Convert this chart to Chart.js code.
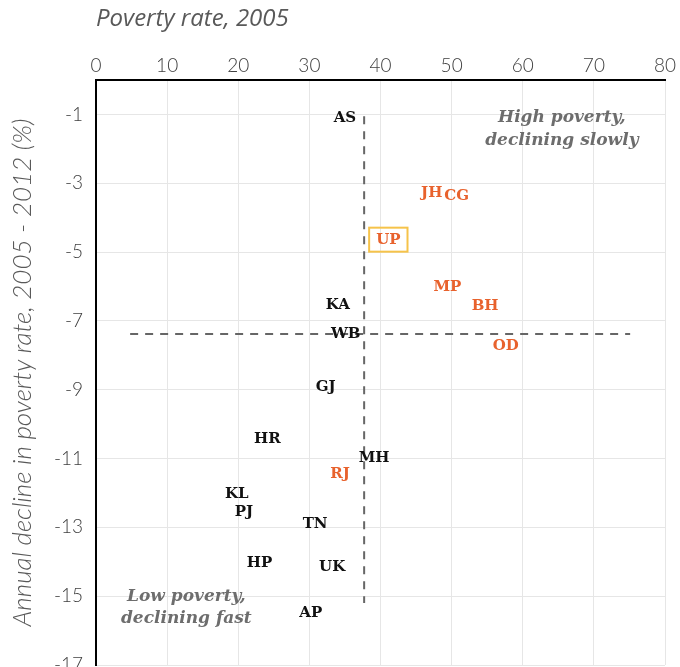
<!DOCTYPE html>
<html>
<head>
<meta charset="utf-8">
<script src="https://cdn.jsdelivr.net/npm/chart.js@4.4.1/dist/chart.umd.min.js"></script>
<style>
  html, body { margin: 0; padding: 0; background: #fff; }
  #wrap { width: 680px; height: 667px; }
</style>
</head>
<body>
<div id="wrap"><canvas id="povertyChart"></canvas></div>
<script>
// state codes with 2005 poverty rate (x) and annual decline 2005-2012 (y)
const states = ['AS', 'JH', 'CG', 'UP', 'MP', 'BH', 'KA', 'WB', 'OD', 'GJ',
                'HR', 'MH', 'RJ', 'KL', 'PJ', 'TN', 'HP', 'UK', 'AP'];
const povertyRate = [35.0, 47.2, 50.7, 41.1, 49.4, 54.7, 34.0, 35.1, 57.6, 32.3,
                     24.1, 39.1, 34.3, 19.8, 20.8, 30.8, 23.0, 33.2, 30.2];
const annualDecline = [-1.10, -3.28, -3.36, -4.64, -6.02, -6.56, -6.55, -7.38, -7.72, -8.93,
                       -10.44, -10.99, -11.46, -12.04, -12.56, -12.90, -14.03, -14.16, -15.49];
const highlighted = ['JH', 'CG', 'UP', 'MP', 'BH', 'OD', 'RJ'];
const boxed = ['UP'];

const xTicks = [0, 10, 20, 30, 40, 50, 60, 70, 80];
const yTicks = [-1, -3, -5, -7, -9, -11, -13, -15, -17];

// dashed dividers (data units)
const vDividerX = [37.7, 37.7];
const vDividerY = [-1.05, -15.2];
const hDividerX = [4.8, 75.1];
const hDividerY = [-7.38, -7.38];

// quadrant notes
const noteText = [['High poverty,', 'declining slowly'], ['Low poverty,', 'declining fast']];
const noteX = [65.5, 12.7];
const noteY = [[-1.1, -1.75], [-15.02, -15.65]];

const ORANGE = '#E8622D';

const labelPlugin = {
    id: 'stateLabels',
    afterDatasetsDraw(chart) {
        const ctx = chart.ctx;
        const x = chart.scales.x;
        const y = chart.scales.y;
        ctx.save();
        ctx.textAlign = 'center';
        ctx.textBaseline = 'middle';
        states.forEach(function (s, i) {
            const px = x.getPixelForValue(povertyRate[i]);
            const py = y.getPixelForValue(annualDecline[i]);
            const hot = highlighted.includes(s);
            ctx.font = 'bold 15px "DejaVu Serif"';
            ctx.fillStyle = hot ? ORANGE : '#111';
            ctx.fillText(s, px, py);
            if (boxed.includes(s)) {
                const w = ctx.measureText(s).width;
                ctx.strokeStyle = '#F6C34A';
                ctx.lineWidth = 2;
                ctx.strokeRect(px - w / 2 - 7, py - 12, w + 14, 24);
            }
        });

        ctx.fillStyle = '#6d6d6d';
        ctx.font = 'italic bold 17px "DejaVu Serif"';
        noteText.forEach(function (lines, i) {
            lines.forEach(function (t, j) {
                ctx.fillText(t, x.getPixelForValue(noteX[i]), y.getPixelForValue(noteY[i][j]));
            });
        });
        ctx.restore();
    }
};

function divider(xs, ys) {
    return {
        data: xs.map((v, i) => ({x: v, y: ys[i]})),
        showLine: true,
        borderColor: '#666',
        borderWidth: 2,
        borderDash: [8, 7],
        pointRadius: 0,
        fill: false
    };
}

const ctx = document.getElementById('povertyChart').getContext('2d');
new Chart(ctx, {
    type: 'scatter',
    data: {
        datasets: [
            {
                data: states.map((s, i) => ({x: povertyRate[i], y: annualDecline[i]})),
                pointRadius: 0,
                pointHoverRadius: 0
            },
            divider(vDividerX, vDividerY),
            divider(hDividerX, hDividerY)
        ]
    },
    options: {
        responsive: true,
        maintainAspectRatio: false,
        animation: false,
        layout: {padding: {top: 0, right: 15, bottom: 2, left: 0}},
        plugins: {legend: {display: false}, tooltip: {enabled: false}},
        scales: {
            x: {
                type: 'linear',
                position: 'top',
                min: 0,
                max: 80,
                afterBuildTicks: s => { s.ticks = xTicks.map(v => ({value: v})); },
                afterFit: s => { s.height = 80; s.paddingLeft = 0; s.paddingRight = 0; },
                grid: {color: '#e6e6e6', lineWidth: 1, drawTicks: false},
                border: {color: '#000', width: 2},
                ticks: {padding: 3, color: '#404040', font: {family: 'Lato', size: 19, weight: 300}},
                title: {
                    display: true,
                    text: 'Poverty rate, 2005',
                    align: 'start',
                    color: '#595959',
                    font: {family: 'Open Sans', size: 24, style: 'italic'},
                    padding: {top: 5, bottom: 0}
                }
            },
            y: {
                type: 'linear',
                min: -17,
                max: 0,
                afterBuildTicks: s => { s.ticks = yTicks.map(v => ({value: v})); },
                afterFit: s => { s.width = 96; s.paddingTop = 0; s.paddingBottom = 0; },
                grid: {color: '#e6e6e6', lineWidth: 1, drawTicks: false},
                border: {color: '#000', width: 2},
                ticks: {padding: 13, color: '#404040', font: {family: 'Lato', size: 19, weight: 300}},
                title: {
                    display: true,
                    text: 'Annual decline in poverty rate, 2005 - 2012 (%)',
                    color: '#595959',
                    font: {family: 'Lato', size: 26, style: 'italic', weight: 300},
                    padding: {top: 7, bottom: 0}
                }
            }
        }
    },
    plugins: [labelPlugin]
});
</script>
</body>
</html>
